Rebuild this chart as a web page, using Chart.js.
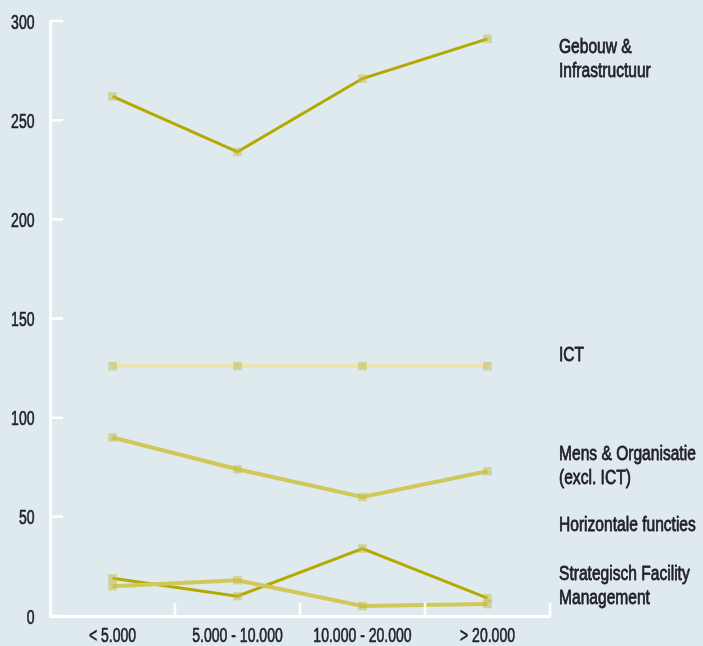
<!DOCTYPE html>
<html>
<head>
<meta charset="utf-8">
<script src="https://cdn.jsdelivr.net/npm/chart.js@4.4.1/dist/chart.umd.min.js"></script>
<style>
  body { margin: 0; background: #dfeaee; }
  #wrap { width: 703px; height: 646px; }
</style>
</head>
<body>
<div id="wrap"><canvas id="chart"></canvas></div>
<script>
const categories = ["< 5.000", "5.000 - 10.000", "10.000 - 20.000", "> 20.000"];
const gebouw = [262, 234, 271, 291];
const ict = [126, 126, 126, 126];
const mens = [90, 74, 60, 73];
const horizontaal = [19, 10, 34, 9];
const strategisch = [15, 18, 5, 6];
const yTicks = [0, 50, 100, 150, 200, 250, 300];
const seriesNames = [
  ["Gebouw &", "Infrastructuur"],
  ["ICT"],
  ["Mens & Organisatie", "(excl. ICT)"],
  ["Horizontale functies"],
  ["Strategisch Facility", "Management"],
];

// baseline of the first line of each name, in px
const nameBaselines = [53, 361, 460, 531, 580];

const fontFamily = "'Liberation Sans', Arial, sans-serif";
const textColor = "#222228";

const dark = "#b4a900";
const mid = "#d1c85a";
const pale = "#e9e4b0";
const marker = "rgba(196, 186, 70, 0.5)";

function series(label, data, color, width) {
  return {
    label: label,
    data: data,
    borderColor: color,
    borderWidth: width,
    backgroundColor: marker,
    pointStyle: "rect",
    pointRadius: 6,
    pointBorderWidth: 0,
    pointBackgroundColor: marker,
    tension: 0,
  };
}

// condensed look: squeeze a normal sans horizontally, a thin stroke gives it some weight
function narrowText(ctx, text, x, y, align, squeeze) {
  ctx.save();
  ctx.translate(x, y);
  ctx.scale(squeeze, 1);
  ctx.textAlign = align;
  ctx.fillText(text, 0, 0);
  ctx.strokeText(text, 0, 0);
  ctx.restore();
}

const axisDecor = {
  id: "axisDecor",
  afterDraw(chart) {
    const ctx = chart.ctx;
    const x = chart.scales.x;
    const y = chart.scales.y;
    const area = chart.chartArea;
    ctx.save();
    ctx.strokeStyle = "#ffffff";
    ctx.lineWidth = 2.5;
    ctx.beginPath();
    yTicks.forEach((v) => {
      const py = y.getPixelForValue(v);
      ctx.moveTo(area.left, py);
      ctx.lineTo(area.left + 13, py);
    });
    const band = x.getPixelForValue(1) - x.getPixelForValue(0);
    categories.forEach((c, i) => {
      const px = x.getPixelForValue(i) + band / 2;
      ctx.moveTo(px, area.bottom);
      ctx.lineTo(px, area.bottom - 13);
    });
    ctx.stroke();

    ctx.fillStyle = textColor;
    ctx.strokeStyle = textColor;
    ctx.lineWidth = 0.6;
    ctx.lineJoin = "round";
    ctx.textBaseline = "alphabetic";
    ctx.font = "19.5px " + fontFamily;
    yTicks.forEach((v) => {
      narrowText(ctx, String(v), area.left - 15.5, y.getPixelForValue(v) + 7.5, "right", 0.72);
    });
    categories.forEach((c, i) => {
      narrowText(ctx, c, x.getPixelForValue(i), area.bottom + 26, "center", 0.72);
    });

    ctx.lineWidth = 0.8;
    ctx.font = "20.5px " + fontFamily;
    seriesNames.forEach((lines, k) => {
      lines.forEach((t, j) => {
        narrowText(ctx, t, area.right + 9, nameBaselines[k] + j * 24, "left", 0.76);
      });
    });
    ctx.restore();
  },
};

new Chart(document.getElementById("chart"), {
  type: "line",
  data: {
    labels: categories,
    datasets: [
      series("Gebouw & Infrastructuur", gebouw, dark, 3),
      series("ICT", ict, pale, 4),
      series("Mens & Organisatie (excl. ICT)", mens, mid, 4),
      series("Strategisch Facility Management", strategisch, mid, 4),
      series("Horizontale functies", horizontaal, dark, 3),
    ],
  },
  options: {
    responsive: true,
    maintainAspectRatio: false,
    animation: false,
    layout: { padding: { top: 21, right: 153, left: 0, bottom: 0 } },
    plugins: {
      legend: { display: false },
      tooltip: { enabled: false },
    },
    scales: {
      x: {
        offset: true,
        grid: { display: false, drawTicks: false },
        border: { display: true, color: "#ffffff", width: 3 },
        ticks: { display: false },
        afterFit: (s) => { s.height = 30; },
      },
      y: {
        min: 0,
        max: 300,
        grid: { display: false, drawTicks: false },
        border: { display: true, color: "#ffffff", width: 3 },
        ticks: { display: false, stepSize: 50 },
        afterFit: (s) => { s.width = 50; },
      },
    },
  },
  plugins: [axisDecor],
});
</script>
</body>
</html>
